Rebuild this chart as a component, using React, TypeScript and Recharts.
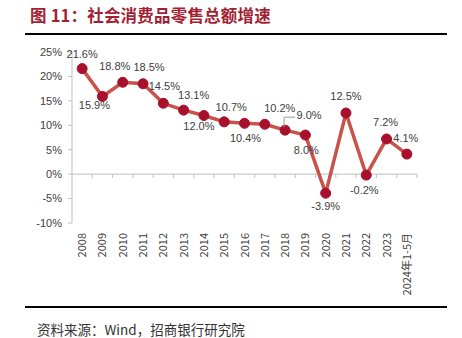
import { FC } from "react"
import { Line, LineChart, ReferenceLine, XAxis, YAxis } from "recharts"

const years = ["2008", "2009", "2010", "2011", "2012", "2013", "2014", "2015", "2016", "2017", "2018", "2019", "2020", "2021", "2022", "2023", "2024年1-5月"]
const growth = [21.6, 15.9, 18.8, 18.5, 14.5, 13.1, 12.0, 10.7, 10.4, 10.2, 9.0, 8.0, -3.9, 12.5, -0.2, 7.2, 4.1]
const yTicks = [-10, -5, 0, 5, 10, 15, 20, 25]

// label offset from each point (dx, dy of the label centre)
const labelOffsets: [number, number][] = [
  [0, -14], [-8, 9], [-8, -16], [6, -17], [1, -17], [10, -15], [-5, 11], [7, -15],
  [1, 15], [15, -16], [24, -15], [1, 15], [0, 13], [0, -17], [-2, 15], [-1, -17], [-1, -16],
]

const data = years.map((year, i) => ({ i, year, value: growth[i] }))

const LATIN = '"Liberation Sans", Arial, sans-serif'
const CJK = '"Noto Sans CJK SC", "Liberation Sans", sans-serif'
const TEXT = "#404040"
const AXIS = "#BFBFBF"

const XTick: FC<any> = ({ x, payload }) => {
  const y = 233
  return (
    <text x={x} y={y} dy={4} transform={`rotate(-90, ${x}, ${y})`} textAnchor="end"
      fontSize={11} fill={TEXT} fontFamily={CJK}>
      {years[payload.value]}
    </text>
  )
}

const renderLabel = (props: any) => {
  const { x, y, value, index } = props
  const [dx, dy] = labelOffsets[index]
  return (
    <g key={`lbl-${index}`}>
      {index === 10 && (
        <path d={`M${x + 10},${y - 13} H${x - 1} V${y - 3}`} stroke="#999" strokeWidth={1} fill="none" />
      )}
      <text x={x + dx} y={y + dy} dy="0.35em" textAnchor="middle" fontSize={11}
        fill={TEXT} fontFamily={LATIN}>
        {`${Number(value).toFixed(1)}%`}
      </text>
    </g>
  )
}

const App: FC = () => {
  return (
    <div style={{ position: "absolute", left: 0, top: 0, width: 462, height: 338, background: "#fff" }}>
      <div style={{
        position: "absolute", left: 30, top: 4, fontFamily: CJK, fontWeight: 700,
        fontSize: 16.5, letterSpacing: 0.2, color: "#A31F34", whiteSpace: "nowrap", lineHeight: "23px",
      }}>
        图 11：社会消费品零售总额增速
      </div>
      <div style={{ position: "absolute", left: 25, top: 33, width: 422, height: 2, background: "#000" }} />

      <div style={{ position: "absolute", left: 0, top: 0 }}>
        <LineChart width={462} height={338} data={data}
          margin={{ top: 52, right: 45, bottom: 0, left: 0 }}>
          <XAxis dataKey="i" type="number" domain={[-0.5, 16.5]} ticks={data.map(d => d.i)}
            axisLine={false} tickLine={false} tick={<XTick />} interval={0} height={115} />
          <YAxis domain={[-10, 25]} ticks={yTicks} width={72} interval={0}
            tickFormatter={(v: number) => `${v}%`}
            axisLine={{ stroke: AXIS }} tickLine={{ stroke: AXIS }} tickSize={4} tickMargin={6}
            tick={{ fontSize: 11, fill: TEXT, fontFamily: LATIN }} />
          <ReferenceLine y={0} stroke={AXIS} strokeWidth={1} />
          {years.map((_, i) => (
            <ReferenceLine key={i} stroke={AXIS}
              segment={[{ x: i + 0.5, y: 0 }, { x: i + 0.5, y: -0.8 }]} />
          ))}
          <Line dataKey="value" stroke="#C9524B" strokeWidth={3.5} isAnimationActive={false}
            dot={{ r: 5, fill: "#A8102C", stroke: "#A8102C", strokeWidth: 1 }}
            activeDot={false} label={renderLabel} />
        </LineChart>
      </div>

      <div style={{ position: "absolute", left: 25, top: 306, width: 422, height: 2, background: "#000" }} />
      <div style={{
        position: "absolute", left: 37, top: 318, fontFamily: CJK, fontSize: 13.5,
        color: "#333", whiteSpace: "nowrap", lineHeight: "22px",
      }}>
        资料来源：Wind，招商银行研究院
      </div>
    </div>
  )
}

export default App
